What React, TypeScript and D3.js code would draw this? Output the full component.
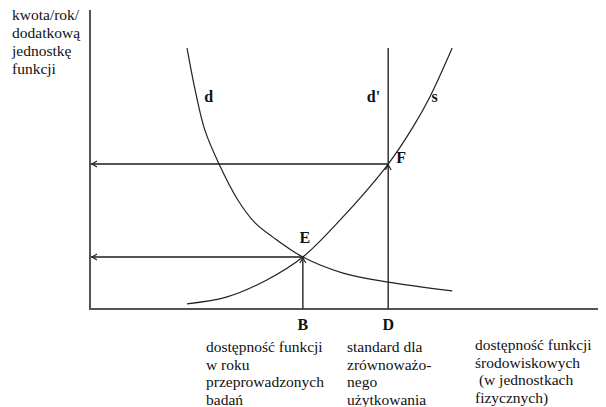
import React from 'react';
import { scaleLinear, line, curveCatmullRom } from 'd3';

const width = 606;
const height = 407;

// data space: 0..100 on both axes
const demandCurve: [number, number][] = [
  [19.1, 86.4], [20.7, 72.5], [22.6, 59.3], [25.4, 48.0], [29.1, 36.1],
  [32.5, 28.5], [36.0, 23.8], [41.9, 17.2], [49.8, 11.9], [58.7, 8.9], [71.3, 6.0]
];
const supplyCurve: [number, number][] = [
  [19.1, 1.7], [27.0, 4.0], [34.8, 9.6], [41.9, 17.2], [49.8, 30.5],
  [58.7, 48.0], [63.6, 60.3], [66.9, 70.2], [71.3, 86.4]
];
const pointE = { x: 41.9, y: 17.2 };
const pointF = { x: 58.7, y: 48.0 };
const standardTop = 86.4;

const yTitle = ['kwota/rok/', 'dodatkową', 'jednostkę', 'funkcji'];
const labelB = ['dostępność funkcji', 'w roku', 'przeprowadzonych', 'badań'];
const labelD = ['standard dla', 'zrównoważo-', 'nego', 'użytkowania'];
const labelX = ['dostępność funkcji', 'środowiskowych', ' (w jednostkach', 'fizycznych)'];

const xScale = scaleLinear().domain([0, 100]).range([90, 598]);
const yScale = scaleLinear().domain([0, 100]).range([309, 7]);

const curveFn = line<[number, number]>()
  .curve(curveCatmullRom)
  .x(d => xScale(d[0]))
  .y(d => yScale(d[1]));

const font = "'Times New Roman', 'Liberation Serif', serif";
const axisColor = '#555';

const MultiText = ({ lines, x, y, dy }: { lines: string[]; x: number; y: number; dy: number }) => (
  <text x={x} y={y} style={{ fontFamily: font, fontSize: 15.5, whiteSpace: 'pre' }} fill="#111">
    {lines.map((l, i) => (
      <tspan key={i} x={x} y={y + i * dy}>{l}</tspan>
    ))}
  </text>
);

const App = () => {
  const x0 = xScale(0);
  const y0 = yScale(0);
  const ex = xScale(pointE.x), ey = yScale(pointE.y);
  const fx = xScale(pointF.x), fy = yScale(pointF.y);

  // left-pointing chevron arrowhead
  const leftArrow = (y: number) => `M${x0 + 7},${y - 3} L${x0 + 2},${y} L${x0 + 7},${y + 3}`;
  // up-pointing chevron arrowhead
  const upArrow = (x: number, y: number) => `M${x - 3},${y + 6} L${x},${y + 1} L${x + 3},${y + 6}`;

  return (
    <svg width={width} height={height} style={{ position: 'absolute', left: 0, top: 0, background: '#fff' }}>
      {/* axes */}
      <line x1={x0} y1={yScale(99)} x2={x0} y2={y0 + 1} stroke={axisColor} strokeWidth={2} />
      <line x1={x0} y1={y0} x2={xScale(100)} y2={y0} stroke={axisColor} strokeWidth={2} />

      {/* guides to the y axis */}
      <line x1={x0} y1={fy} x2={fx} y2={fy} stroke={axisColor} strokeWidth={2} />
      <line x1={x0} y1={ey} x2={ex} y2={ey} stroke={axisColor} strokeWidth={2} />
      <path d={leftArrow(fy)} fill="none" stroke="#222" strokeWidth={1.2} />
      <path d={leftArrow(ey)} fill="none" stroke="#222" strokeWidth={1.2} />

      {/* verticals B and D (d') */}
      <line x1={ex} y1={y0} x2={ex} y2={ey} stroke="#333" strokeWidth={1.5} />
      <line x1={fx} y1={y0} x2={fx} y2={yScale(standardTop)} stroke="#333" strokeWidth={1.5} />
      <path d={upArrow(ex, ey)} fill="none" stroke="#222" strokeWidth={1.2} />
      <path d={upArrow(fx, fy)} fill="none" stroke="#222" strokeWidth={1.2} />

      {/* curves */}
      <path d={curveFn(demandCurve) || ''} fill="none" stroke="#222" strokeWidth={1.2} />
      <path d={curveFn(supplyCurve) || ''} fill="none" stroke="#222" strokeWidth={1.2} />

      {/* curve labels */}
      <g style={{ fontFamily: font, fontSize: 16, fontWeight: 'bold' }} fill="#111">
        <text x={xScale(22.5)} y={102}>d</text>
        <text x={xScale(54.5)} y={102}>d'</text>
        <text x={xScale(67.2)} y={102}>s</text>
        <text x={ex + 2} y={ey - 14} textAnchor="middle">E</text>
        <text x={fx + 8} y={fy - 1}>F</text>
        <text x={ex} y={y0 + 21} textAnchor="middle">B</text>
        <text x={fx} y={y0 + 21} textAnchor="middle">D</text>
      </g>

      <MultiText lines={yTitle} x={12} y={20} dy={18} />
      <MultiText lines={labelB} x={206} y={352} dy={17.5} />
      <MultiText lines={labelD} x={347} y={352} dy={17.5} />
      <MultiText lines={labelX} x={475} y={350} dy={17.5} />
    </svg>
  );
};

export default App;
